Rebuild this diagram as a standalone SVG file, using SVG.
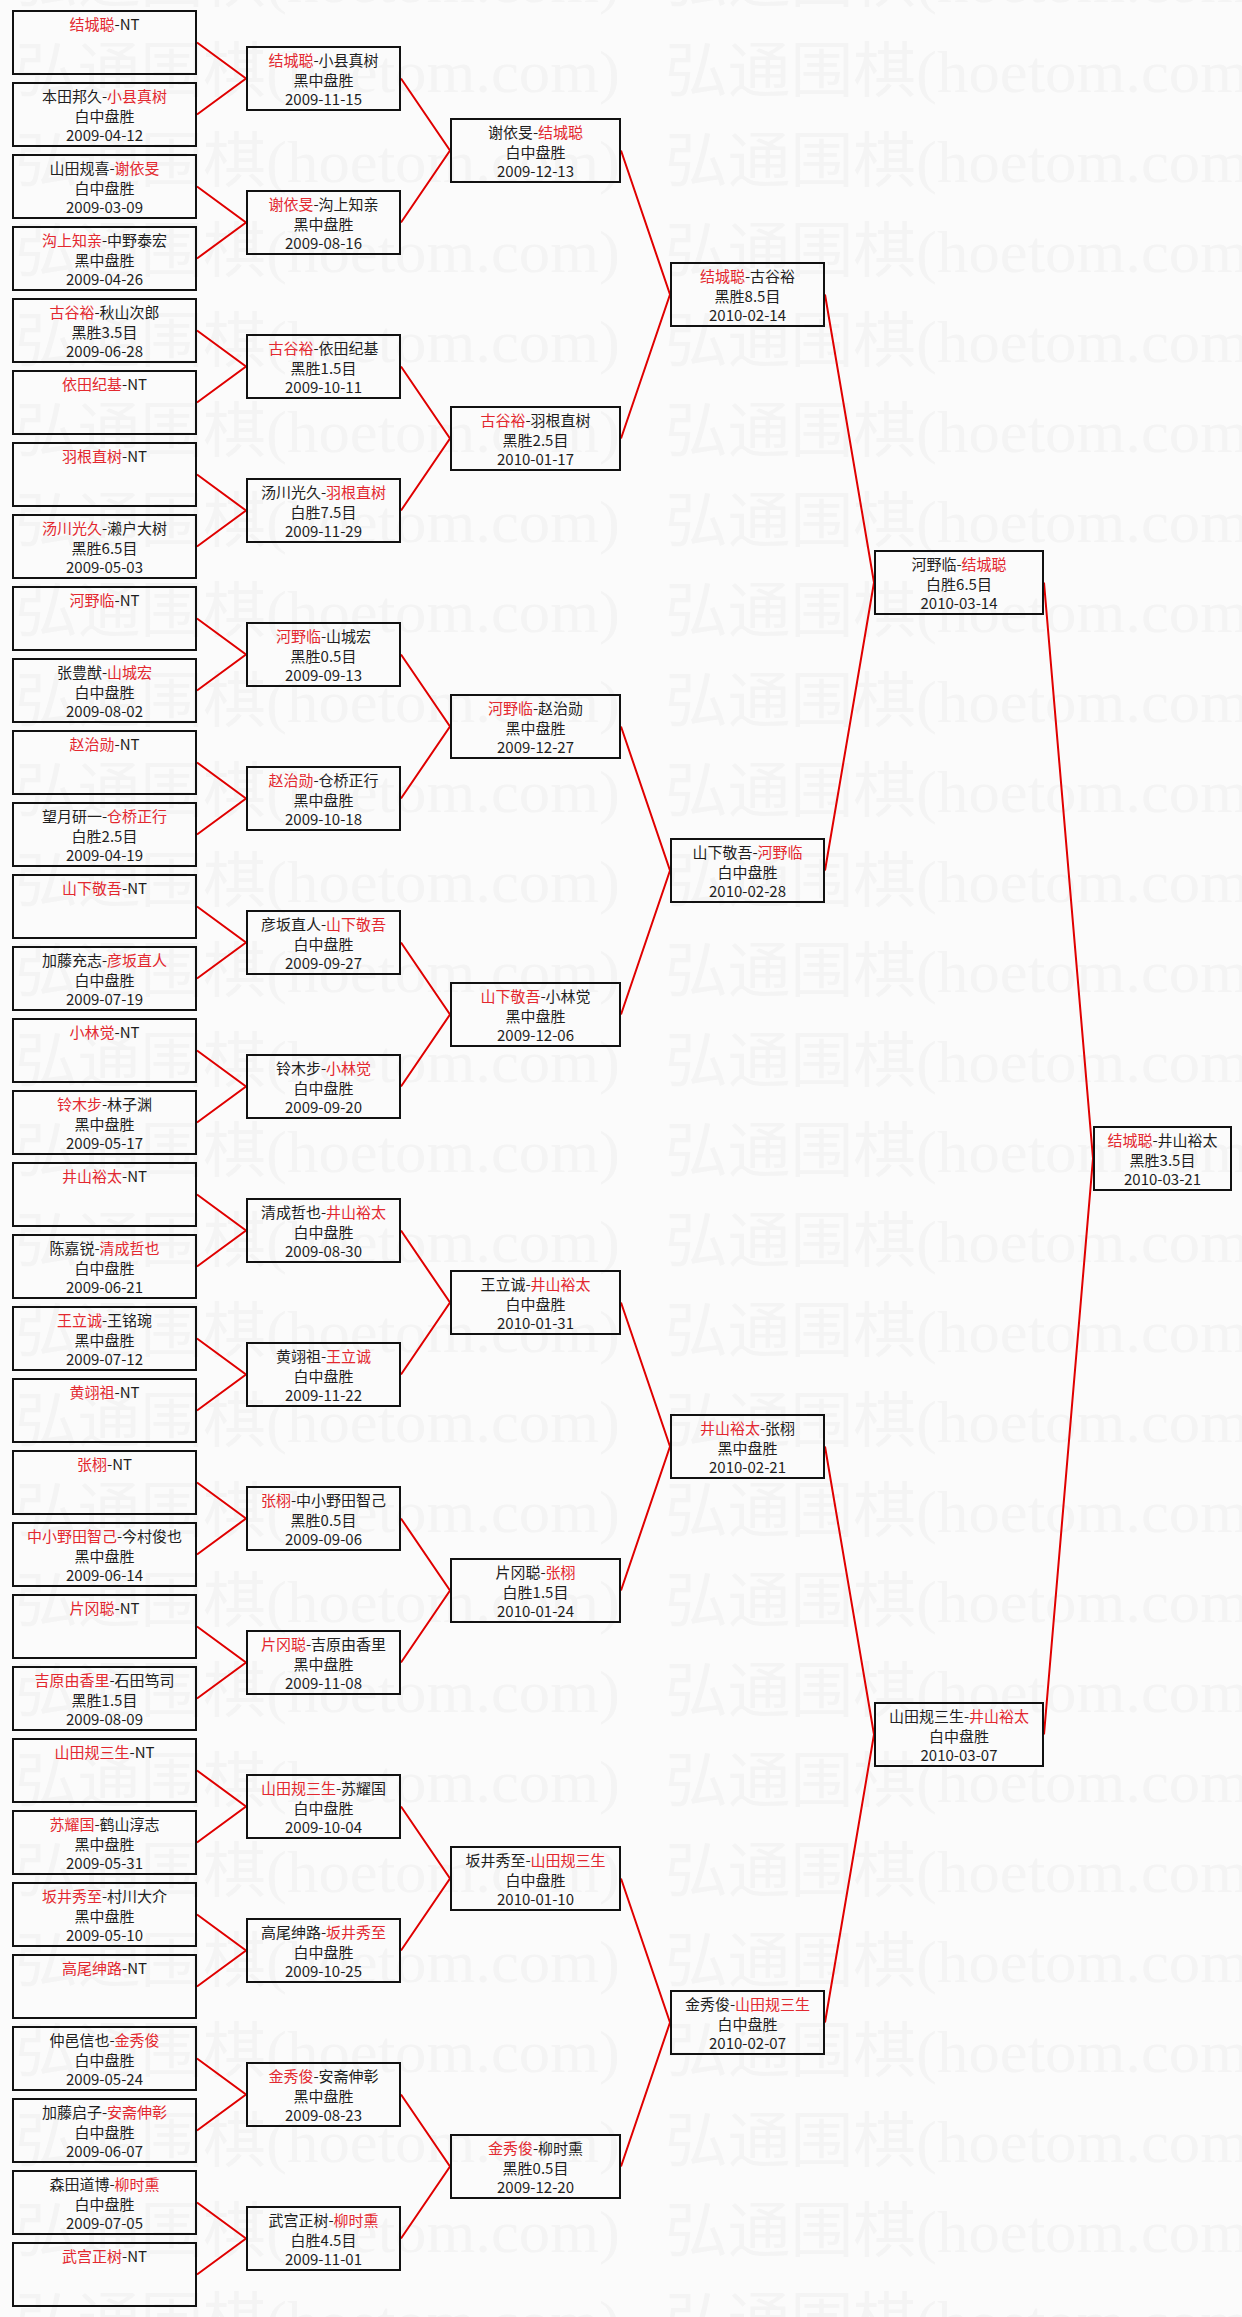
<svg xmlns="http://www.w3.org/2000/svg" width="1242" height="2317" viewBox="0 0 1242 2317">
<style>
.b{fill:none;stroke:#111;stroke-width:2}
.t{font-family:"Noto Sans CJK SC","Noto Sans",sans-serif;font-size:15px;fill:#1e1e1e;text-anchor:middle}
.r{fill:#e3282f}
.c{fill:none;stroke:#e00000;stroke-width:2}
.wm{font-family:"Liberation Serif","Noto Sans CJK SC",serif;font-size:60px;fill:#f4f4f4}
</style>
<defs>
<pattern id="wmp" patternUnits="userSpaceOnUse" x="15" y="40" width="650" height="90">
<text class="wm" x="0" y="52" textLength="605" lengthAdjust="spacingAndGlyphs">弘通围棋(hoetom.com)</text>
</pattern>
</defs>
<rect x="0" y="0" width="1242" height="2317" fill="#fbfbfb"/>
<rect x="0" y="0" width="1242" height="2317" fill="url(#wmp)"/>
<g id="connectors">
<path class="c" d="M197,42.5 L246,78.5 L197,114.5"/>
<path class="c" d="M197,186.5 L246,222.5 L197,258.5"/>
<path class="c" d="M197,330.5 L246,366.5 L197,402.5"/>
<path class="c" d="M197,474.5 L246,510.5 L197,546.5"/>
<path class="c" d="M197,618.5 L246,654.5 L197,690.5"/>
<path class="c" d="M197,762.5 L246,798.5 L197,834.5"/>
<path class="c" d="M197,906.5 L246,942.5 L197,978.5"/>
<path class="c" d="M197,1050.5 L246,1086.5 L197,1122.5"/>
<path class="c" d="M197,1194.5 L246,1230.5 L197,1266.5"/>
<path class="c" d="M197,1338.5 L246,1374.5 L197,1410.5"/>
<path class="c" d="M197,1482.5 L246,1518.5 L197,1554.5"/>
<path class="c" d="M197,1626.5 L246,1662.5 L197,1698.5"/>
<path class="c" d="M197,1770.5 L246,1806.5 L197,1842.5"/>
<path class="c" d="M197,1914.5 L246,1950.5 L197,1986.5"/>
<path class="c" d="M197,2058.5 L246,2094.5 L197,2130.5"/>
<path class="c" d="M197,2202.5 L246,2238.5 L197,2274.5"/>
<path class="c" d="M401,78.5 L450,150.5 L401,222.5"/>
<path class="c" d="M401,366.5 L450,438.5 L401,510.5"/>
<path class="c" d="M401,654.5 L450,726.5 L401,798.5"/>
<path class="c" d="M401,942.5 L450,1014.5 L401,1086.5"/>
<path class="c" d="M401,1230.5 L450,1302.5 L401,1374.5"/>
<path class="c" d="M401,1518.5 L450,1590.5 L401,1662.5"/>
<path class="c" d="M401,1806.5 L450,1878.5 L401,1950.5"/>
<path class="c" d="M401,2094.5 L450,2166.5 L401,2238.5"/>
<path class="c" d="M621,150.5 L670,294.5 L621,438.5"/>
<path class="c" d="M621,726.5 L670,870.5 L621,1014.5"/>
<path class="c" d="M621,1302.5 L670,1446.5 L621,1590.5"/>
<path class="c" d="M621,1878.5 L670,2022.5 L621,2166.5"/>
<path class="c" d="M825,294.5 L874,582.5 L825,870.5"/>
<path class="c" d="M825,1446.5 L874,1734.5 L825,2022.5"/>
<path class="c" d="M1044,582.5 L1093,1158.5 L1044,1734.5"/>
</g>
<g id="r1-01"><rect class="b" x="13" y="11" width="183" height="63"/><text class="t" x="104.5" y="30"><tspan class="r">结城聪</tspan>-NT</text></g>
<g id="r1-02"><rect class="b" x="13" y="83" width="183" height="63"/><text class="t" x="104.5" y="102">本田邦久-<tspan class="r">小县真树</tspan></text><text class="t" x="104.5" y="121.5">白中盘胜</text><text class="t" x="104.5" y="140.5">2009-04-12</text></g>
<g id="r1-03"><rect class="b" x="13" y="155" width="183" height="63"/><text class="t" x="104.5" y="174">山田规喜-<tspan class="r">谢依旻</tspan></text><text class="t" x="104.5" y="193.5">白中盘胜</text><text class="t" x="104.5" y="212.5">2009-03-09</text></g>
<g id="r1-04"><rect class="b" x="13" y="227" width="183" height="63"/><text class="t" x="104.5" y="246"><tspan class="r">沟上知亲</tspan>-中野泰宏</text><text class="t" x="104.5" y="265.5">黑中盘胜</text><text class="t" x="104.5" y="284.5">2009-04-26</text></g>
<g id="r1-05"><rect class="b" x="13" y="299" width="183" height="63"/><text class="t" x="104.5" y="318"><tspan class="r">古谷裕</tspan>-秋山次郎</text><text class="t" x="104.5" y="337.5">黑胜3.5目</text><text class="t" x="104.5" y="356.5">2009-06-28</text></g>
<g id="r1-06"><rect class="b" x="13" y="371" width="183" height="63"/><text class="t" x="104.5" y="390"><tspan class="r">依田纪基</tspan>-NT</text></g>
<g id="r1-07"><rect class="b" x="13" y="443" width="183" height="63"/><text class="t" x="104.5" y="462"><tspan class="r">羽根直树</tspan>-NT</text></g>
<g id="r1-08"><rect class="b" x="13" y="515" width="183" height="63"/><text class="t" x="104.5" y="534"><tspan class="r">汤川光久</tspan>-濑户大树</text><text class="t" x="104.5" y="553.5">黑胜6.5目</text><text class="t" x="104.5" y="572.5">2009-05-03</text></g>
<g id="r1-09"><rect class="b" x="13" y="587" width="183" height="63"/><text class="t" x="104.5" y="606"><tspan class="r">河野临</tspan>-NT</text></g>
<g id="r1-10"><rect class="b" x="13" y="659" width="183" height="63"/><text class="t" x="104.5" y="678">张豊猷-<tspan class="r">山城宏</tspan></text><text class="t" x="104.5" y="697.5">白中盘胜</text><text class="t" x="104.5" y="716.5">2009-08-02</text></g>
<g id="r1-11"><rect class="b" x="13" y="731" width="183" height="63"/><text class="t" x="104.5" y="750"><tspan class="r">赵治勋</tspan>-NT</text></g>
<g id="r1-12"><rect class="b" x="13" y="803" width="183" height="63"/><text class="t" x="104.5" y="822">望月研一-<tspan class="r">仓桥正行</tspan></text><text class="t" x="104.5" y="841.5">白胜2.5目</text><text class="t" x="104.5" y="860.5">2009-04-19</text></g>
<g id="r1-13"><rect class="b" x="13" y="875" width="183" height="63"/><text class="t" x="104.5" y="894"><tspan class="r">山下敬吾</tspan>-NT</text></g>
<g id="r1-14"><rect class="b" x="13" y="947" width="183" height="63"/><text class="t" x="104.5" y="966">加藤充志-<tspan class="r">彦坂直人</tspan></text><text class="t" x="104.5" y="985.5">白中盘胜</text><text class="t" x="104.5" y="1004.5">2009-07-19</text></g>
<g id="r1-15"><rect class="b" x="13" y="1019" width="183" height="63"/><text class="t" x="104.5" y="1038"><tspan class="r">小林觉</tspan>-NT</text></g>
<g id="r1-16"><rect class="b" x="13" y="1091" width="183" height="63"/><text class="t" x="104.5" y="1110"><tspan class="r">铃木步</tspan>-林子渊</text><text class="t" x="104.5" y="1129.5">黑中盘胜</text><text class="t" x="104.5" y="1148.5">2009-05-17</text></g>
<g id="r1-17"><rect class="b" x="13" y="1163" width="183" height="63"/><text class="t" x="104.5" y="1182"><tspan class="r">井山裕太</tspan>-NT</text></g>
<g id="r1-18"><rect class="b" x="13" y="1235" width="183" height="63"/><text class="t" x="104.5" y="1254">陈嘉锐-<tspan class="r">清成哲也</tspan></text><text class="t" x="104.5" y="1273.5">白中盘胜</text><text class="t" x="104.5" y="1292.5">2009-06-21</text></g>
<g id="r1-19"><rect class="b" x="13" y="1307" width="183" height="63"/><text class="t" x="104.5" y="1326"><tspan class="r">王立诚</tspan>-王铭琬</text><text class="t" x="104.5" y="1345.5">黑中盘胜</text><text class="t" x="104.5" y="1364.5">2009-07-12</text></g>
<g id="r1-20"><rect class="b" x="13" y="1379" width="183" height="63"/><text class="t" x="104.5" y="1398"><tspan class="r">黄翊祖</tspan>-NT</text></g>
<g id="r1-21"><rect class="b" x="13" y="1451" width="183" height="63"/><text class="t" x="104.5" y="1470"><tspan class="r">张栩</tspan>-NT</text></g>
<g id="r1-22"><rect class="b" x="13" y="1523" width="183" height="63"/><text class="t" x="104.5" y="1542"><tspan class="r">中小野田智己</tspan>-今村俊也</text><text class="t" x="104.5" y="1561.5">黑中盘胜</text><text class="t" x="104.5" y="1580.5">2009-06-14</text></g>
<g id="r1-23"><rect class="b" x="13" y="1595" width="183" height="63"/><text class="t" x="104.5" y="1614"><tspan class="r">片冈聪</tspan>-NT</text></g>
<g id="r1-24"><rect class="b" x="13" y="1667" width="183" height="63"/><text class="t" x="104.5" y="1686"><tspan class="r">吉原由香里</tspan>-石田笃司</text><text class="t" x="104.5" y="1705.5">黑胜1.5目</text><text class="t" x="104.5" y="1724.5">2009-08-09</text></g>
<g id="r1-25"><rect class="b" x="13" y="1739" width="183" height="63"/><text class="t" x="104.5" y="1758"><tspan class="r">山田规三生</tspan>-NT</text></g>
<g id="r1-26"><rect class="b" x="13" y="1811" width="183" height="63"/><text class="t" x="104.5" y="1830"><tspan class="r">苏耀国</tspan>-鹤山淳志</text><text class="t" x="104.5" y="1849.5">黑中盘胜</text><text class="t" x="104.5" y="1868.5">2009-05-31</text></g>
<g id="r1-27"><rect class="b" x="13" y="1883" width="183" height="63"/><text class="t" x="104.5" y="1902"><tspan class="r">坂井秀至</tspan>-村川大介</text><text class="t" x="104.5" y="1921.5">黑中盘胜</text><text class="t" x="104.5" y="1940.5">2009-05-10</text></g>
<g id="r1-28"><rect class="b" x="13" y="1955" width="183" height="63"/><text class="t" x="104.5" y="1974"><tspan class="r">高尾绅路</tspan>-NT</text></g>
<g id="r1-29"><rect class="b" x="13" y="2027" width="183" height="63"/><text class="t" x="104.5" y="2046">仲邑信也-<tspan class="r">金秀俊</tspan></text><text class="t" x="104.5" y="2065.5">白中盘胜</text><text class="t" x="104.5" y="2084.5">2009-05-24</text></g>
<g id="r1-30"><rect class="b" x="13" y="2099" width="183" height="63"/><text class="t" x="104.5" y="2118">加藤启子-<tspan class="r">安斋伸彰</tspan></text><text class="t" x="104.5" y="2137.5">白中盘胜</text><text class="t" x="104.5" y="2156.5">2009-06-07</text></g>
<g id="r1-31"><rect class="b" x="13" y="2171" width="183" height="63"/><text class="t" x="104.5" y="2190">森田道博-<tspan class="r">柳时熏</tspan></text><text class="t" x="104.5" y="2209.5">白中盘胜</text><text class="t" x="104.5" y="2228.5">2009-07-05</text></g>
<g id="r1-32"><rect class="b" x="13" y="2243" width="183" height="63"/><text class="t" x="104.5" y="2262"><tspan class="r">武宫正树</tspan>-NT</text></g>
<g id="r2-01"><rect class="b" x="247" y="47" width="153" height="63"/><text class="t" x="323.5" y="66"><tspan class="r">结城聪</tspan>-小县真树</text><text class="t" x="323.5" y="85.5">黑中盘胜</text><text class="t" x="323.5" y="104.5">2009-11-15</text></g>
<g id="r2-02"><rect class="b" x="247" y="191" width="153" height="63"/><text class="t" x="323.5" y="210"><tspan class="r">谢依旻</tspan>-沟上知亲</text><text class="t" x="323.5" y="229.5">黑中盘胜</text><text class="t" x="323.5" y="248.5">2009-08-16</text></g>
<g id="r2-03"><rect class="b" x="247" y="335" width="153" height="63"/><text class="t" x="323.5" y="354"><tspan class="r">古谷裕</tspan>-依田纪基</text><text class="t" x="323.5" y="373.5">黑胜1.5目</text><text class="t" x="323.5" y="392.5">2009-10-11</text></g>
<g id="r2-04"><rect class="b" x="247" y="479" width="153" height="63"/><text class="t" x="323.5" y="498">汤川光久-<tspan class="r">羽根直树</tspan></text><text class="t" x="323.5" y="517.5">白胜7.5目</text><text class="t" x="323.5" y="536.5">2009-11-29</text></g>
<g id="r2-05"><rect class="b" x="247" y="623" width="153" height="63"/><text class="t" x="323.5" y="642"><tspan class="r">河野临</tspan>-山城宏</text><text class="t" x="323.5" y="661.5">黑胜0.5目</text><text class="t" x="323.5" y="680.5">2009-09-13</text></g>
<g id="r2-06"><rect class="b" x="247" y="767" width="153" height="63"/><text class="t" x="323.5" y="786"><tspan class="r">赵治勋</tspan>-仓桥正行</text><text class="t" x="323.5" y="805.5">黑中盘胜</text><text class="t" x="323.5" y="824.5">2009-10-18</text></g>
<g id="r2-07"><rect class="b" x="247" y="911" width="153" height="63"/><text class="t" x="323.5" y="930">彦坂直人-<tspan class="r">山下敬吾</tspan></text><text class="t" x="323.5" y="949.5">白中盘胜</text><text class="t" x="323.5" y="968.5">2009-09-27</text></g>
<g id="r2-08"><rect class="b" x="247" y="1055" width="153" height="63"/><text class="t" x="323.5" y="1074">铃木步-<tspan class="r">小林觉</tspan></text><text class="t" x="323.5" y="1093.5">白中盘胜</text><text class="t" x="323.5" y="1112.5">2009-09-20</text></g>
<g id="r2-09"><rect class="b" x="247" y="1199" width="153" height="63"/><text class="t" x="323.5" y="1218">清成哲也-<tspan class="r">井山裕太</tspan></text><text class="t" x="323.5" y="1237.5">白中盘胜</text><text class="t" x="323.5" y="1256.5">2009-08-30</text></g>
<g id="r2-10"><rect class="b" x="247" y="1343" width="153" height="63"/><text class="t" x="323.5" y="1362">黄翊祖-<tspan class="r">王立诚</tspan></text><text class="t" x="323.5" y="1381.5">白中盘胜</text><text class="t" x="323.5" y="1400.5">2009-11-22</text></g>
<g id="r2-11"><rect class="b" x="247" y="1487" width="153" height="63"/><text class="t" x="323.5" y="1506"><tspan class="r">张栩</tspan>-中小野田智己</text><text class="t" x="323.5" y="1525.5">黑胜0.5目</text><text class="t" x="323.5" y="1544.5">2009-09-06</text></g>
<g id="r2-12"><rect class="b" x="247" y="1631" width="153" height="63"/><text class="t" x="323.5" y="1650"><tspan class="r">片冈聪</tspan>-吉原由香里</text><text class="t" x="323.5" y="1669.5">黑中盘胜</text><text class="t" x="323.5" y="1688.5">2009-11-08</text></g>
<g id="r2-13"><rect class="b" x="247" y="1775" width="153" height="63"/><text class="t" x="323.5" y="1794"><tspan class="r">山田规三生</tspan>-苏耀国</text><text class="t" x="323.5" y="1813.5">白中盘胜</text><text class="t" x="323.5" y="1832.5">2009-10-04</text></g>
<g id="r2-14"><rect class="b" x="247" y="1919" width="153" height="63"/><text class="t" x="323.5" y="1938">高尾绅路-<tspan class="r">坂井秀至</tspan></text><text class="t" x="323.5" y="1957.5">白中盘胜</text><text class="t" x="323.5" y="1976.5">2009-10-25</text></g>
<g id="r2-15"><rect class="b" x="247" y="2063" width="153" height="63"/><text class="t" x="323.5" y="2082"><tspan class="r">金秀俊</tspan>-安斋伸彰</text><text class="t" x="323.5" y="2101.5">黑中盘胜</text><text class="t" x="323.5" y="2120.5">2009-08-23</text></g>
<g id="r2-16"><rect class="b" x="247" y="2207" width="153" height="63"/><text class="t" x="323.5" y="2226">武宫正树-<tspan class="r">柳时熏</tspan></text><text class="t" x="323.5" y="2245.5">白胜4.5目</text><text class="t" x="323.5" y="2264.5">2009-11-01</text></g>
<g id="r3-01"><rect class="b" x="451" y="119" width="169" height="63"/><text class="t" x="535.5" y="138">谢依旻-<tspan class="r">结城聪</tspan></text><text class="t" x="535.5" y="157.5">白中盘胜</text><text class="t" x="535.5" y="176.5">2009-12-13</text></g>
<g id="r3-02"><rect class="b" x="451" y="407" width="169" height="63"/><text class="t" x="535.5" y="426"><tspan class="r">古谷裕</tspan>-羽根直树</text><text class="t" x="535.5" y="445.5">黑胜2.5目</text><text class="t" x="535.5" y="464.5">2010-01-17</text></g>
<g id="r3-03"><rect class="b" x="451" y="695" width="169" height="63"/><text class="t" x="535.5" y="714"><tspan class="r">河野临</tspan>-赵治勋</text><text class="t" x="535.5" y="733.5">黑中盘胜</text><text class="t" x="535.5" y="752.5">2009-12-27</text></g>
<g id="r3-04"><rect class="b" x="451" y="983" width="169" height="63"/><text class="t" x="535.5" y="1002"><tspan class="r">山下敬吾</tspan>-小林觉</text><text class="t" x="535.5" y="1021.5">黑中盘胜</text><text class="t" x="535.5" y="1040.5">2009-12-06</text></g>
<g id="r3-05"><rect class="b" x="451" y="1271" width="169" height="63"/><text class="t" x="535.5" y="1290">王立诚-<tspan class="r">井山裕太</tspan></text><text class="t" x="535.5" y="1309.5">白中盘胜</text><text class="t" x="535.5" y="1328.5">2010-01-31</text></g>
<g id="r3-06"><rect class="b" x="451" y="1559" width="169" height="63"/><text class="t" x="535.5" y="1578">片冈聪-<tspan class="r">张栩</tspan></text><text class="t" x="535.5" y="1597.5">白胜1.5目</text><text class="t" x="535.5" y="1616.5">2010-01-24</text></g>
<g id="r3-07"><rect class="b" x="451" y="1847" width="169" height="63"/><text class="t" x="535.5" y="1866">坂井秀至-<tspan class="r">山田规三生</tspan></text><text class="t" x="535.5" y="1885.5">白中盘胜</text><text class="t" x="535.5" y="1904.5">2010-01-10</text></g>
<g id="r3-08"><rect class="b" x="451" y="2135" width="169" height="63"/><text class="t" x="535.5" y="2154"><tspan class="r">金秀俊</tspan>-柳时熏</text><text class="t" x="535.5" y="2173.5">黑胜0.5目</text><text class="t" x="535.5" y="2192.5">2009-12-20</text></g>
<g id="r4-01"><rect class="b" x="671" y="263" width="153" height="63"/><text class="t" x="747.5" y="282"><tspan class="r">结城聪</tspan>-古谷裕</text><text class="t" x="747.5" y="301.5">黑胜8.5目</text><text class="t" x="747.5" y="320.5">2010-02-14</text></g>
<g id="r4-02"><rect class="b" x="671" y="839" width="153" height="63"/><text class="t" x="747.5" y="858">山下敬吾-<tspan class="r">河野临</tspan></text><text class="t" x="747.5" y="877.5">白中盘胜</text><text class="t" x="747.5" y="896.5">2010-02-28</text></g>
<g id="r4-03"><rect class="b" x="671" y="1415" width="153" height="63"/><text class="t" x="747.5" y="1434"><tspan class="r">井山裕太</tspan>-张栩</text><text class="t" x="747.5" y="1453.5">黑中盘胜</text><text class="t" x="747.5" y="1472.5">2010-02-21</text></g>
<g id="r4-04"><rect class="b" x="671" y="1991" width="153" height="63"/><text class="t" x="747.5" y="2010">金秀俊-<tspan class="r">山田规三生</tspan></text><text class="t" x="747.5" y="2029.5">白中盘胜</text><text class="t" x="747.5" y="2048.5">2010-02-07</text></g>
<g id="r5-01"><rect class="b" x="875" y="551" width="168" height="63"/><text class="t" x="959" y="570">河野临-<tspan class="r">结城聪</tspan></text><text class="t" x="959" y="589.5">白胜6.5目</text><text class="t" x="959" y="608.5">2010-03-14</text></g>
<g id="r5-02"><rect class="b" x="875" y="1703" width="168" height="63"/><text class="t" x="959" y="1722">山田规三生-<tspan class="r">井山裕太</tspan></text><text class="t" x="959" y="1741.5">白中盘胜</text><text class="t" x="959" y="1760.5">2010-03-07</text></g>
<g id="final"><rect class="b" x="1094" y="1127" width="137" height="63"/><text class="t" x="1162.5" y="1146"><tspan class="r">结城聪</tspan>-井山裕太</text><text class="t" x="1162.5" y="1165.5">黑胜3.5目</text><text class="t" x="1162.5" y="1184.5">2010-03-21</text></g>
</svg>
